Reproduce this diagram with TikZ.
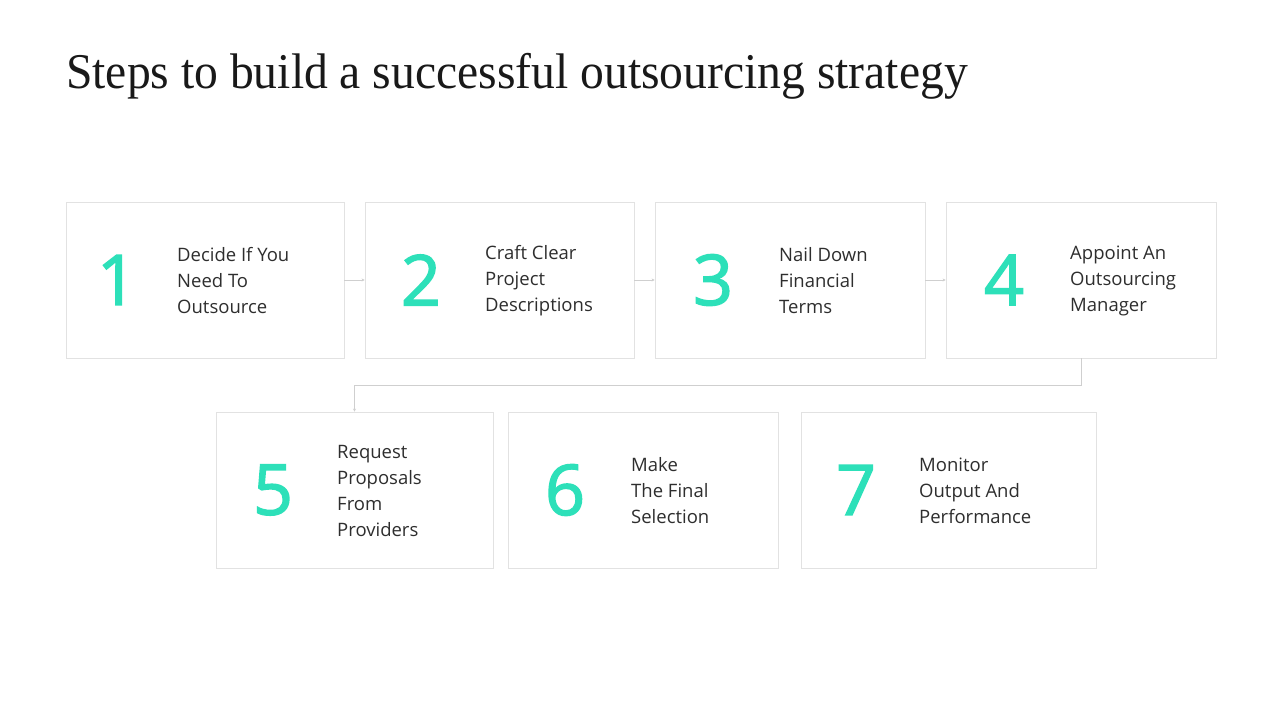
\documentclass[tikz,border=0pt]{standalone}
\usepackage{fontspec}
\setmainfont{Open Sans}
\newfontfamily\titlefont{Liberation Serif}
\newfontfamily\numfont[FakeBold=2]{Open Sans}
\usetikzlibrary{arrows.meta}
\definecolor{teal}{HTML}{2DE0B9}
\definecolor{boxline}{HTML}{E2E2E2}
\definecolor{conn}{HTML}{CFCFCF}
\definecolor{txt}{HTML}{2E2E2E}
\tikzset{
  stepbox/.style={draw=boxline, line width=0.8pt, fill=white, minimum height=156pt, inner sep=0pt},
  num/.style={text=teal, font=\numfont\fontsize{70}{70}\selectfont, inner sep=0pt},
  lbl/.style={text=txt, font=\fontsize{18.5}{26}\selectfont, align=left, anchor=west, inner sep=0pt},
  conn/.style={draw=conn, line width=0.6pt, -{Stealth[length=3pt,width=3pt]}}
}
\begin{document}
\begin{tikzpicture}[x=1pt,y=-1pt]
\useasboundingbox[fill=white] (0,0) rectangle (1280,720);
\node[anchor=base west, inner sep=0pt, text=black!90, font=\titlefont\fontsize{50}{50}\selectfont] (title) at (66,88) {\scalebox{0.952}[1]{Steps to build a successful outsourcing strategy}};
% boxes row 1
\node[stepbox, minimum width=278pt] (b1) at (205,280) {};
\node[stepbox, minimum width=269pt] (b2) at (499.5,280) {};
\node[stepbox, minimum width=270pt] (b3) at (790,280) {};
\node[stepbox, minimum width=270pt] (b4) at (1081,280) {};
% row 2
\node[stepbox, minimum width=277pt] (b5) at (354.5,490) {};
\node[stepbox, minimum width=270pt] (b6) at (643,490) {};
\node[stepbox, minimum width=295pt] (b7) at (948.5,490) {};
% numbers
\node[num] (n1) at (117,280) {1};
\node[num] (n2) at (421,280) {2};
\node[num] (n3) at (713,280) {3};
\node[num] (n4) at (1004,280) {4};
\node[num] (n5) at (273,490) {5};
\node[num] (n6) at (565,490) {6};
\node[num] (n7) at (856,490) {7};
% labels
\node[lbl] (t1) at (177,281) {Decide If You\\Need To\\Outsource};
\node[lbl] (t2) at (485,281) {Craft Clear\\Project\\Descriptions};
\node[lbl] (t3) at (779,281) {Nail Down\\Financial\\Terms};
\node[lbl] (t4) at (1070,281) {Appoint An\\Outsourcing\\Manager};
\node[lbl] (t5) at (337,491) {Request\\Proposals\\From\\Providers};
\node[lbl] (t6) at (631,491) {Make\\The Final\\Selection};
\node[lbl] (t7) at (919,491) {Monitor\\Output And\\Performance};
% connectors
\draw[conn] (b1.east) -- (b2.west);
\draw[conn] (b2.east) -- (b3.west);
\draw[conn] (b3.east) -- (b4.west);
\draw[conn] (b4.south) -- ++(0,27) -| (b5.north);
\end{tikzpicture}
\end{document}
